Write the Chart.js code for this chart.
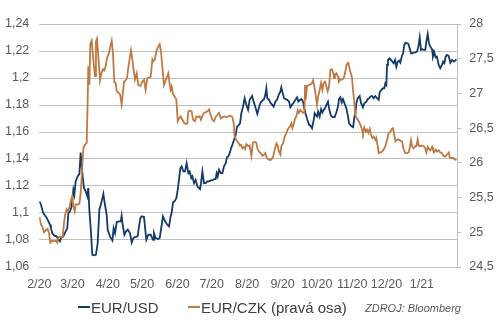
<!DOCTYPE html>
<html>
<head>
<meta charset="utf-8">
<script src="https://cdn.jsdelivr.net/npm/chart.js@4.4.1/dist/chart.umd.min.js"></script>
<style>
html,body{margin:0;padding:0;background:#fff;}
canvas{display:block;}
</style>
</head>
<body>
<canvas id="c" width="496" height="322"></canvas>
<script>
// ---- x axis: days counted from 1 Feb 2020, labels at month starts ----
const tickDays   = [0, 29, 60, 90, 121, 151, 182, 213, 243, 274, 304, 335];
const tickLabels = ['2/20','3/20','4/20','5/20','6/20','7/20','8/20','9/20','10/20','11/20','12/20','1/21'];
const xRange = [0, 366];

// ---- series names / source ----
const seriesNames = ['EUR/USD', 'EUR/CZK (pravá osa)'];
const sourceNote = 'ZDROJ: Bloomberg';

// ---- axis ranges ----
const usdAxis = {min: 1.06, max: 1.24, step: 0.02};
const czkAxis = {min: 24.5, max: 28, step: 0.5};

// ---- EUR/USD (left axis) ----
const usdDays = [
  0,1.5,3.5,5.6,7.3,9.4,10.2,11.4,13.2,15.2,16.7,18.1,19.0,21.0,23.1,24.5,25.4,26.9,28.3,29.8,
  30.7,31.8,33.6,35.1,36.2,37.1,38.0,39.1,40.6,42.1,42.9,43.8,45.3,46.4,48.2,49.6,51.1,52.6,54.6,56.1,
  57.5,59.0,59.9,61.9,64.0,65.1,66.3,67.8,69.8,71.3,72.1,73.0,74.5,75.9,77.4,79.4,80.9,82.3,83.8,86.1,
  87.3,88.5,
  89.6,91.7,93.7,95.5,97.5,99.6,100.4,101.9,103.9,105.4,107.2,108.3,110.1,112.1,113.6,115.0,115.9,117.1,118.8,120.0,
  121.2,122.3,123.5,124.7,126.1,127.6,129.0,130.5,131.7,133.1,134.0,135.5,136.9,138.4,139.8,140.7,141.6,142.8,144.2,145.7,
  147.1,148.6,150.1,151.5,153.0,154.4,155.3,156.2,157.4,158.8,160.3,161.7,163.2,164.4,165.5,166.7,167.9,169.0,170.5,172.0,
  173.1,174.9,175.8,176.9,178.4,179.8,
  181.3,182.8,184.2,186.3,187.7,189.5,190.9,192.4,193.8,195.3,196.8,197.9,198.8,199.7,201.1,202.6,204.0,205.2,206.7,208.1,
  209.6,211.1,211.9,212.8,214.3,215.7,217.2,218.7,219.8,221.3,222.8,224.2,225.7,226.8,228.3,229.7,230.9,231.8,233.2,234.7,
  236.2,237.6,238.8,240.3,241.1,242.0,243.2,244.1,245.5,246.7,247.9,249.0,250.2,251.4,252.8,253.7,255.1,256.6,258.6,260.1,
  261.5,262.4,263.6,264.8,265.9,267.4,268.9,
  270.3,271.2,272.4,273.8,274.8,275.9,276.7,277.6,278.8,280.5,281.7,283.4,284.6,286.4,287.5,288.7,289.9,291.3,292.8,294.2,
  295.7,297.2,298.0,299.5,301.0,302.1,303.0,303.9,304.5,305.3,306.8,307.9,309.1,310.3,311.5,312.6,313.8,315.0,316.1,317.3,
  318.5,319.6,320.8,322.0,323.1,324.3,325.5,326.6,327.8,329.3,330.7,331.9,333.1,334.2,335.4,336.6,338.0,338.9,340.1,341.2,
  342.4,343.9,344.7,345.9,347.1,348.2,349.7,351.1,352.6,353.5,354.7,355.8,357.0,358.5,359.9,361.4,362.9,364.3,365.2
];
const usdRate = [
  1.1086,1.1061,1.0999,1.0975,1.0950,1.0913,1.0888,1.0851,1.0832,1.0827,1.0802,1.0790,1.0814,1.0827,1.0864,1.0888,1.0999,1.1012,1.1049,1.1172,
  1.1135,1.1234,1.1271,1.1290,1.1448,1.1345,1.1271,1.1184,1.1160,1.1123,1.1184,1.1024,1.0851,1.0691,1.0686,1.0691,1.0777,1.1024,1.1086,1.1142,
  1.1061,1.0987,1.0876,1.0827,1.0797,1.0888,1.0851,1.0933,1.0938,1.0938,1.0980,1.0913,1.0839,1.0864,1.0876,1.0851,1.0782,1.0814,1.0822,1.0827,
  1.0901,1.0962,
  1.0975,1.0970,1.0802,1.0839,1.0839,1.0802,1.0851,1.0814,1.0807,1.0814,1.0913,1.0975,1.0938,1.0913,1.0901,1.0975,1.1004,1.1078,1.1091,1.1110,
  1.1172,1.1246,1.1332,1.1345,1.1308,1.1308,1.1369,1.1295,1.1308,1.1258,1.1271,1.1221,1.1246,1.1197,1.1184,1.1177,1.1221,1.1308,1.1221,1.1221,
  1.1234,1.1234,1.1241,1.1241,1.1251,1.1251,1.1295,1.1271,1.1320,1.1295,1.1295,1.1345,1.1369,1.1414,1.1419,1.1443,1.1480,1.1505,1.1542,1.1579,
  1.1640,1.1653,1.1665,1.1739,1.1788,1.1850,
  1.1801,1.1764,1.1838,1.1867,1.1825,1.1776,1.1734,1.1783,1.1818,1.1833,1.1843,1.1875,1.1924,1.1850,1.1838,1.1813,1.1801,1.1788,1.1825,1.1838,
  1.1875,1.1899,1.1931,1.1899,1.1850,1.1843,1.1838,1.1825,1.1783,1.1801,1.1818,1.1838,1.1857,1.1825,1.1838,1.1843,1.1825,1.1783,1.1734,1.1690,
  1.1653,1.1645,1.1628,1.1690,1.1739,1.1727,1.1714,1.1751,1.1714,1.1769,1.1744,1.1764,1.1776,1.1801,1.1825,1.1776,1.1727,1.1710,1.1710,1.1744,
  1.1788,1.1843,1.1857,1.1818,1.1843,1.1808,1.1775,
  1.1714,1.1665,1.1653,1.1640,1.1635,1.1714,1.1727,1.1813,1.1850,1.1867,1.1813,1.1783,1.1813,1.1825,1.1843,1.1850,1.1862,1.1867,1.1850,1.1867,
  1.1850,1.1838,1.1892,1.1912,1.1924,1.1924,1.1961,1.1949,1.2097,1.2134,1.2146,1.2134,1.2121,1.2109,1.2134,1.2084,1.2121,1.2129,1.2114,1.2158,
  1.2183,1.2245,1.2262,1.2257,1.2252,1.2220,1.2183,1.2183,1.2188,1.2190,1.2195,1.2232,1.2301,1.2208,1.2213,1.2208,1.2208,1.2269,1.2326,1.2257,
  1.2232,1.2213,1.2158,1.2188,1.2153,1.2158,1.2097,1.2072,1.2097,1.2121,1.2109,1.2158,1.2171,1.2163,1.2114,1.2134,1.2121,1.2129,1.2138
];

// ---- EUR/CZK (right axis) ----
const czkDays = [
  0,1.5,2.7,4.1,5.6,7.3,8.5,9.7,11.4,13.2,14.6,15.8,16.7,18.1,19.0,20.5,21.6,22.5,24.0,24.8,
  26.3,27.8,28.9,29.8,31.0,31.8,33.6,35.1,36.2,37.1,38.6,40.0,41.5,42.3,42.9,43.8,44.7,45.9,47.3,48.8,
  49.6,50.5,51.7,53.2,54.3,55.8,56.9,58.1,59.3,61.0,62.5,63.4,64.5,65.7,66.9,67.8,69.2,70.7,72.1,73.3,
  74.2,75.6,76.8,78.0,79.4,80.3,81.5,82.6,83.8,85.3,86.7,88.5,
  90.2,91.7,93.1,94.6,96.1,97.5,99.0,99.8,101.0,102.5,103.9,105.4,106.6,107.7,109.2,110.7,111.8,113.0,114.2,115.0,
  115.9,117.1,118.8,120.0,121.2,122.3,123.8,125.2,126.7,128.2,129.6,130.5,132.0,133.4,134.6,136.3,137.5,139.3,140.4,141.6,
  142.8,144.2,145.7,147.1,148.6,150.1,151.5,153.0,154.4,155.9,157.4,158.8,160.3,162.0,163.8,165.5,167.3,169.0,170.2,171.1,
  172.6,174.3,175.5,176.7,177.8,179.0,180.2,
  181.3,182.8,184.2,185.7,187.1,188.6,190.0,190.9,192.4,193.8,195.3,196.8,197.9,198.8,200.3,201.7,203.2,204.6,206.1,207.6,
  208.7,209.9,211.1,211.9,213.4,214.9,216.3,217.8,219.3,220.7,221.6,222.8,223.9,225.1,226.3,227.4,228.6,229.8,230.9,232.1,
  232.7,233.3,234.4,235.9,237.3,238.8,239.7,240.8,242.0,243.2,244.1,245.5,246.7,247.9,249.0,250.2,251.4,252.5,253.7,254.9,
  256.0,257.2,258.1,258.9,260.1,261.6,262.4,263.6,265.1,266.5,267.7,268.9,270.3,
  270.9,272.4,273.8,274.7,275.9,277.0,278.2,279.7,281.1,282.6,283.4,284.6,285.8,286.9,288.1,289.3,290.5,291.6,292.8,294.3,
  295.1,296.3,297.2,298.6,300.1,301.5,303.0,304.5,305.9,307.4,308.8,309.7,310.9,311.8,313.2,314.7,316.1,317.6,319.1,320.5,
  322.0,323.4,324.3,325.5,326.4,327.8,329.3,330.2,331.3,332.2,333.7,335.1,336.6,338.0,338.9,340.1,341.2,342.4,343.9,344.7,
  345.9,347.1,348.2,349.7,351.1,352.6,354.1,355.5,357.0,358.5,359.3,360.5,362.3,364.0,365.2
];
const czkRate = [
  25.22,25.11,25.08,25.00,25.03,25.05,24.99,24.85,24.88,24.87,24.88,24.85,24.92,24.94,24.93,24.93,25.13,25.25,25.33,25.30,
  25.35,25.47,25.52,25.37,25.30,25.40,25.40,25.41,25.56,25.80,26.21,26.26,26.29,26.86,27.39,27.12,27.72,27.76,27.48,27.25,
  27.75,27.79,27.53,27.19,27.29,27.35,27.33,27.39,27.51,27.58,27.70,27.76,27.58,27.16,27.15,27.03,27.01,26.99,26.84,27.03,
  27.17,27.19,27.22,27.38,27.53,27.62,27.49,27.34,27.20,27.29,27.12,27.11,
  27.17,27.20,27.05,27.22,27.23,27.24,27.49,27.46,27.48,27.60,27.67,27.71,27.60,27.39,27.12,27.19,27.24,27.29,27.12,27.05,
  27.10,26.99,26.95,26.91,26.60,26.64,26.67,26.62,26.58,26.56,26.57,26.74,26.75,26.74,26.62,26.60,26.67,26.66,26.67,26.62,
  26.68,26.72,26.73,26.74,26.77,26.69,26.62,26.60,26.66,26.69,26.72,26.64,26.66,26.67,26.66,26.67,26.68,26.66,26.57,26.38,
  26.33,26.29,26.25,26.26,26.21,26.23,26.20,
  26.27,26.24,26.25,26.10,26.29,26.30,26.29,26.21,26.16,26.14,26.10,26.12,26.14,26.09,26.05,26.04,26.05,26.08,26.19,26.28,
  26.25,26.16,26.12,26.24,26.28,26.38,26.43,26.49,26.52,26.57,26.50,26.56,26.64,26.67,26.76,26.72,26.76,26.74,26.72,26.72,
  27.12,26.91,27.10,27.12,27.13,27.15,27.19,27.10,26.98,26.84,26.95,27.05,27.15,27.05,27.15,27.17,27.10,27.03,27.10,27.34,
  27.35,27.31,27.22,27.27,27.29,27.24,27.17,27.20,27.20,27.22,27.29,27.41,27.44,
  27.41,27.31,27.23,27.05,26.86,26.67,26.64,26.60,26.55,26.48,26.43,26.51,26.45,26.48,26.43,26.49,26.40,26.36,26.38,26.33,
  26.36,26.24,26.14,26.15,26.16,26.19,26.24,26.33,26.43,26.45,26.49,26.50,26.40,26.31,26.33,26.34,26.32,26.31,26.19,26.14,
  26.14,26.15,26.21,26.33,26.24,26.21,26.24,26.24,26.34,26.25,26.24,26.25,26.24,26.21,26.15,26.23,26.20,26.18,26.23,26.19,
  26.16,26.19,26.16,26.18,26.15,26.14,26.10,26.09,26.12,26.15,26.08,26.07,26.07,26.05,26.04
];

// ---------------------------------------------------------------
const FONT = "'Liberation Sans', Arial, sans-serif";
const BLUE = '#123A6B';
const ORANGE = '#BF7A44';
const GRID = '#C0C0C0';
const TICK_COLOR = '#595959';

const pairs = (xs, ys) => {
  const n = Math.min(xs.length, ys.length);
  const out = [];
  for (let i = 0; i < n; i++) out.push({x: xs[i], y: ys[i]});
  return out;
};
const fmt = v => String(+Number(v).toFixed(2)).replace('.', ',');

const bgPlugin = {
  id: 'bg',
  beforeDraw(chart) {
    const c = chart.ctx;
    c.save(); c.fillStyle = '#fff'; c.fillRect(0, 0, chart.width, chart.height); c.restore();
  }
};

const legendPlugin = {
  id: 'customLegend',
  afterDraw(chart) {
    const c = chart.ctx;
    const starts = [78, 188];
    const y = 308.5;
    c.save();
    chart.data.datasets.forEach((ds, i) => {
      const x0 = starts[i];
      c.strokeStyle = ds.borderColor;
      c.lineWidth = 2;
      c.beginPath(); c.moveTo(x0, y - 1.5); c.lineTo(x0 + 12, y - 1.5); c.stroke();
      c.fillStyle = '#404040';
      c.font = '15px ' + FONT;
      c.textBaseline = 'middle';
      c.textAlign = 'left';
      c.fillText(ds.label, x0 + 13, y);
    });
    c.fillStyle = '#595959';
    c.font = 'italic 11px ' + FONT;
    c.textBaseline = 'middle';
    c.fillText(sourceNote, 365, y);
    c.restore();
  }
};

new Chart(document.getElementById('c'), {
  type: 'line',
  data: {
    datasets: [
      {
        label: seriesNames[0],
        data: pairs(usdDays, usdRate),
        yAxisID: 'y',
        borderColor: BLUE,
        backgroundColor: BLUE,
        borderWidth: 1.8,
        pointRadius: 0,
        tension: 0,
        order: 1
      },
      {
        label: seriesNames[1],
        data: pairs(czkDays, czkRate),
        yAxisID: 'y2',
        borderColor: ORANGE,
        backgroundColor: ORANGE,
        borderWidth: 1.8,
        pointRadius: 0,
        tension: 0,
        order: 0
      }
    ]
  },
  options: {
    responsive: false,
    animation: false,
    devicePixelRatio: 1,
    layout: {padding: {top: 24, left: 0, right: 0, bottom: 0}},
    plugins: {legend: {display: false}, tooltip: {enabled: false}},
    scales: {
      x: {
        type: 'linear',
        min: xRange[0],
        max: xRange[1],
        grid: {display: false, drawTicks: false},
        border: {display: false},
        afterBuildTicks: s => { s.ticks = tickDays.map(v => ({value: v})); },
        ticks: {
          autoSkip: false,
          maxRotation: 0,
          padding: 10,
          color: TICK_COLOR,
          font: {family: FONT, size: 12.5},
          callback: (v, i) => tickLabels[i]
        },
        afterFit: s => { s.height = 55; }
      },
      y: {
        type: 'linear',
        position: 'left',
        min: usdAxis.min,
        max: usdAxis.max,
        grid: {color: GRID, lineWidth: 1, drawTicks: false},
        border: {display: false},
        ticks: {
          stepSize: usdAxis.step,
          padding: 10,
          color: TICK_COLOR,
          font: {family: FONT, size: 12.5},
          callback: fmt
        },
        afterFit: s => { s.width = 39.3; }
      },
      y2: {
        type: 'linear',
        position: 'right',
        min: czkAxis.min,
        max: czkAxis.max,
        grid: {drawOnChartArea: false, drawTicks: true, tickLength: 4, color: GRID},
        border: {display: true, color: GRID},
        ticks: {
          stepSize: czkAxis.step,
          padding: 8,
          color: TICK_COLOR,
          font: {family: FONT, size: 12.5},
          callback: fmt
        },
        afterFit: s => { s.width = 38.7; }
      }
    }
  },
  plugins: [bgPlugin, legendPlugin]
});
</script>
</body>
</html>
